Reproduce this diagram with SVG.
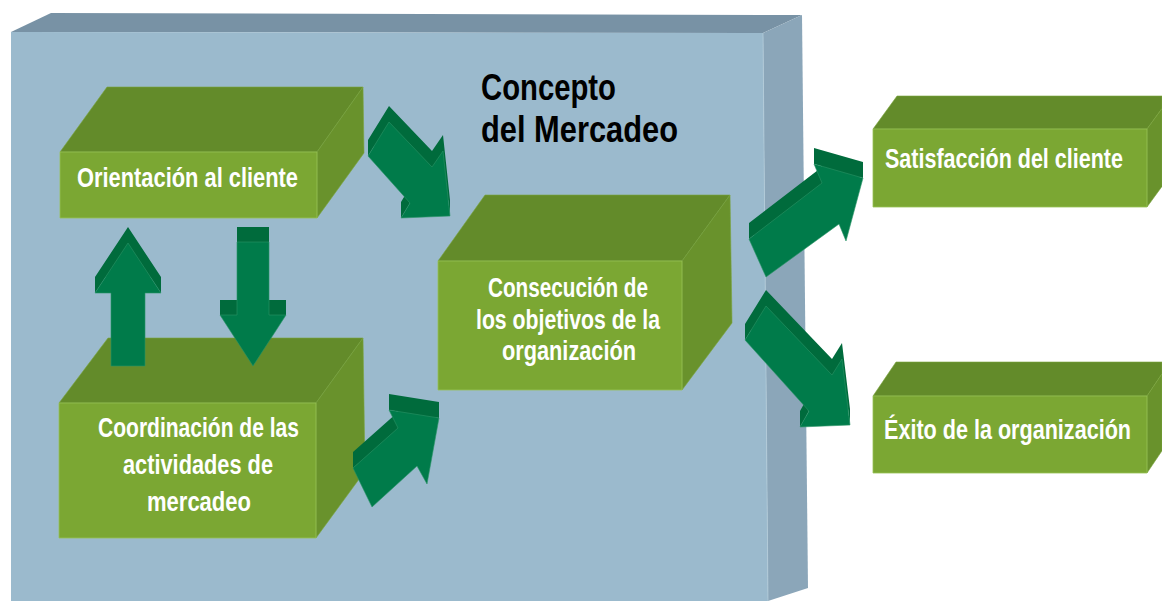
<svg xmlns="http://www.w3.org/2000/svg" width="1162" height="601" viewBox="0 0 1162 601">
<style>
.bf{fill:#9bbacd}
.bt{fill:#7892a5}
.bs{fill:#8ba6b9}
.gf{fill:#7ba733;stroke:#97c256;stroke-width:0.8}
.gt{fill:#638b2a;stroke:#7aa43c;stroke-width:0.6}
.gs{fill:#69922c;stroke:#7aa43c;stroke-width:0.6}
.ad{fill:#006b3c}
.af{fill:#007b4a;stroke:#2a9466;stroke-width:0.6}
.lbl{font-family:"Liberation Sans Narrow","Liberation Sans",Arial,sans-serif;font-weight:bold;fill:#ffffff;font-size:28px}
.ttl{font-family:"Liberation Sans Narrow","Liberation Sans",Arial,sans-serif;font-weight:bold;fill:#000000;font-size:37px}
</style>
<rect x="0" y="0" width="1162" height="601" fill="#ffffff"/>

<g id="concepto">
  <polygon class="bt" points="11,32 51,13 802,15 763,33"/>
  <polygon class="bs" points="763,33 802,15 808,588 768,601"/>
  <polygon class="bf" points="11,32 763,33 768,601 11,601"/>
  <line x1="763" y1="33" x2="768" y2="601" stroke="#b3cbd9" stroke-width="0.8"/>
  <text class="ttl" x="481" y="100" textLength="135" lengthAdjust="spacingAndGlyphs">Concepto</text>
  <text class="ttl" x="481" y="142" textLength="197" lengthAdjust="spacingAndGlyphs">del Mercadeo</text>
</g>

<g id="orientacion">
  <polygon class="gt" points="60,152 107,87 363,87 317,152"/>
  <polygon class="gs" points="317,152 363,87 364,153 317,218"/>
  <polygon class="gf" points="60,152 317,152 317,218 60,218"/>
  <text class="lbl" x="77" y="187" textLength="221" lengthAdjust="spacingAndGlyphs">Orientación al cliente</text>
</g>

<g id="coordinacion">
  <polygon class="gt" points="59,403 108,338 363,338 316,403"/>
  <polygon class="gs" points="316,403 363,338 365,471 316,538"/>
  <polygon class="gf" points="59,403 316,403 316,538 59,538"/>
  <text class="lbl" x="98" y="437" textLength="201" lengthAdjust="spacingAndGlyphs">Coordinación de las</text>
  <text class="lbl" x="123" y="474" textLength="150" lengthAdjust="spacingAndGlyphs">actividades de</text>
  <text class="lbl" x="147" y="511" textLength="104" lengthAdjust="spacingAndGlyphs">mercadeo</text>
</g>

<g id="consecucion">
  <polygon class="gt" points="438,261 485,195 730,195 682,261"/>
  <polygon class="gs" points="682,261 730,195 732,323 682,390"/>
  <polygon class="gf" points="438,261 682,261 682,390 438,390"/>
  <text class="lbl" x="488" y="297" font-size="26" textLength="160" lengthAdjust="spacingAndGlyphs">Consecución de</text>
  <text class="lbl" x="476" y="329" font-size="26" textLength="184" lengthAdjust="spacingAndGlyphs">los objetivos de la</text>
  <text class="lbl" x="502" y="360" font-size="26" textLength="134" lengthAdjust="spacingAndGlyphs">organización</text>
</g>

<g id="satisfaccion">
  <polygon class="gt" points="873,129 897,96 1162,96 1162,108.4 1147,129"/>
  <polygon class="gs" points="1147,129 1162,108.4 1162,186.4 1147,207"/>
  <polygon class="gf" points="873,129 1147,129 1147,207 873,207"/>
  <text class="lbl" x="885" y="168" textLength="238" lengthAdjust="spacingAndGlyphs">Satisfacción del cliente</text>
</g>

<g id="exito">
  <polygon class="gt" points="873,396 896,362 1162,362 1162,373.8 1147,396"/>
  <polygon class="gs" points="1147,396 1162,373.8 1162,450.8 1147,473"/>
  <polygon class="gf" points="873,396 1147,396 1147,473 873,473"/>
  <text class="lbl" x="884" y="439" textLength="247" lengthAdjust="spacingAndGlyphs">Éxito de la organización</text>
</g>

<g id="connectors">
  <g id="arrow1">
    <path class="ad" d="M389,106 L432,151 L443,135 L450,200 L401,202 L410,187 L368,140 Z
      M389,122 L389,106 L432,151 L432,167 Z
      M432,167 L432,151 L443,135 L443,151 Z
      M443,151 L443,135 L450,200 L450,216 Z
      M401,218 L401,202 L410,187 L410,203 Z
      M368,156 L368,140 L389,106 L389,122 Z"/>
    <polygon class="af" points="389,122 432,167 443,151 450,216 401,218 410,203 368,156"/>
  </g>
  <g id="arrow2">
    <path class="ad" d="M111,350 L111,277 L95,277 L128,227 L161,277 L145,277 L145,350 Z
      M95,293 L95,277 L128,227 L128,243 Z
      M128,243 L128,227 L161,277 L161,293 Z"/>
    <polygon class="af" points="111,366 111,293 95,293 128,243 161,293 145,293 145,366"/>
  </g>
  <g id="arrow3">
    <path class="ad" d="M237,227 L269,227 L269,300 L286,300 L253,351 L220,300 L237,300 Z
      M237,242 L237,227 L269,227 L269,242 Z
      M269,315 L269,300 L286,300 L286,315 Z
      M220,315 L220,300 L237,300 L237,315 Z"/>
    <polygon class="af" points="237,242 269,242 269,315 286,315 253,366 220,315 237,315"/>
  </g>
  <g id="arrow4">
    <path class="ad" d="M353,452 L398,412 L389,394 L439,402 L427,468 L417,450 L372,491 Z
      M353,468 L353,452 L398,412 L398,428 Z
      M389,410 L389,394 L439,402 L439,418 Z"/>
    <polygon class="af" points="353,468 398,428 389,410 439,418 427,484 417,466 372,507"/>
  </g>
  <g id="arrow5">
    <path class="ad" d="M749,223 L822,167 L814,148 L863,162 L846,225 L839,208 L766,261 Z
      M749,239 L749,223 L822,167 L822,183 Z
      M814,164 L814,148 L863,162 L863,178 Z"/>
    <polygon class="af" points="749,239 822,183 814,164 863,178 846,241 839,224 766,277"/>
  </g>
  <g id="arrow6">
    <path class="ad" d="M766,290 L832,359 L842,343 L850,409 L800,411 L809,395 L745,324 Z
      M766,306 L766,290 L832,359 L832,375 Z
      M832,375 L832,359 L842,343 L842,359 Z
      M842,359 L842,343 L850,409 L850,425 Z
      M800,427 L800,411 L809,395 L809,411 Z
      M745,340 L745,324 L766,290 L766,306 Z"/>
    <polygon class="af" points="766,306 832,375 842,359 850,425 800,427 809,411 745,340"/>
  </g>
</g>
</svg>
